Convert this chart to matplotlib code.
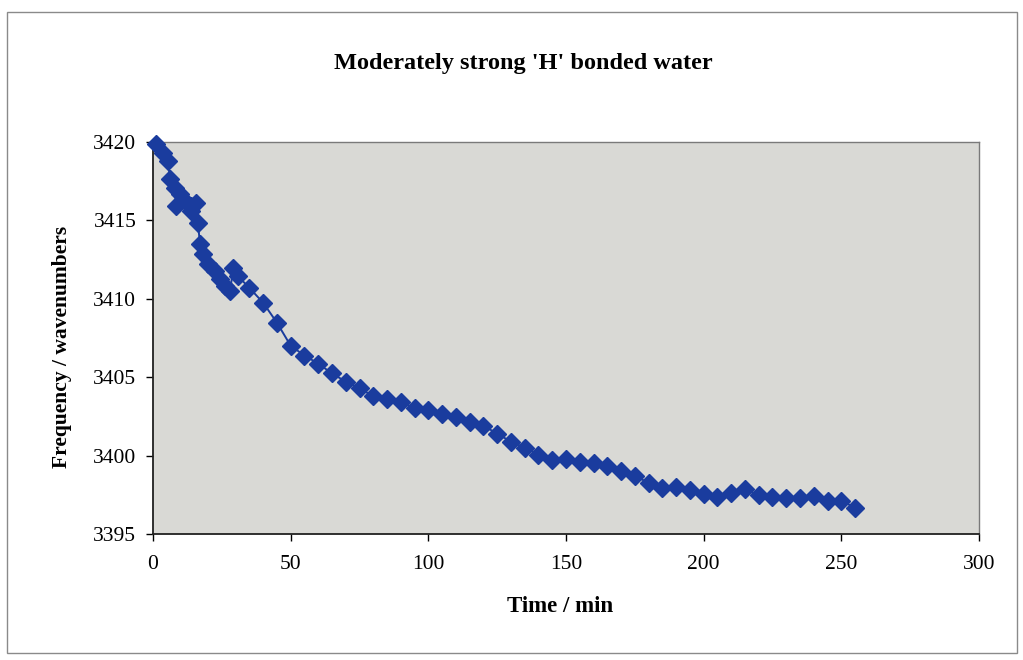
import matplotlib
matplotlib.use("Agg")
import matplotlib.pyplot as plt
from matplotlib.patches import Rectangle

# ---- data ----
time_min = [1.0, 3.6, 5.4, 6.2, 8.0, 8.4, 9.8, 11.6, 13.8, 13.9, 15.6, 16.3, 17.1, 18.2,
            20.0, 22.5, 24.3, 26.2, 28.0, 29.1, 30.9,
            35, 40, 45, 50, 55, 60, 65, 70, 75, 80, 85, 90, 95, 100, 105, 110, 115, 120,
            125, 130, 135, 140, 145, 150, 155, 160, 165, 170, 175, 180, 185, 190, 195,
            200, 205, 210, 215, 220, 225, 230, 235, 240, 245, 250, 255]
frequency = [3419.9, 3419.30, 3418.79, 3417.63, 3417.06, 3415.91, 3416.68, 3416.23, 3415.91,
             3415.59, 3416.10, 3414.82, 3413.48, 3412.84, 3412.20, 3411.75, 3411.24, 3410.79,
             3410.47, 3411.94, 3411.43,
             3410.70, 3409.75, 3408.48, 3407.01, 3406.38, 3405.87, 3405.24, 3404.72, 3404.29,
             3403.79, 3403.59, 3403.41, 3403.03, 3402.91, 3402.65, 3402.47, 3402.15, 3401.91,
             3401.40, 3400.89, 3400.51, 3400.07, 3399.75, 3399.76, 3399.57, 3399.52, 3399.34,
             3399.03, 3398.71, 3398.26, 3397.95, 3398.01, 3397.83, 3397.58, 3397.39, 3397.59,
             3397.85, 3397.47, 3397.35, 3397.29, 3397.30, 3397.42, 3397.11, 3397.12, 3396.68]
x_ticks = [0, 50, 100, 150, 200, 250, 300]
y_ticks = [3395, 3400, 3405, 3410, 3415, 3420]
title = "Moderately strong 'H' bonded water"
x_label = "Time / min"
y_label = "Frequency / wavenumbers"

# ---- figure ----
W, H = 1023, 660
fig = plt.figure(figsize=(W / 100, H / 100), dpi=100)
fig.patch.set_facecolor("white")

serif = ["Liberation Serif", "DejaVu Serif"]

# outer chart border
fig.add_artist(Rectangle((7 / W, 1 - 653 / H), (1017 - 7) / W, (653 - 12) / H,
                         transform=fig.transFigure, fill=False,
                         edgecolor="#8a8a8a", linewidth=1.0))

left, right, top, bottom = 153, 979, 142, 534
ax = fig.add_axes([left / W, 1 - bottom / H, (right - left) / W, (bottom - top) / H])
ax.set_facecolor("#d9d9d5")

blue = "#1a3c9e"
ax.plot(time_min, frequency, color=blue, linewidth=1.4, marker="D",
        markersize=9, markerfacecolor=blue, markeredgecolor=blue, clip_on=False, zorder=3)

ax.set_xlim(0, 300)
ax.set_ylim(3395, 3420)
ax.set_xticks(x_ticks)
ax.set_yticks(y_ticks)
ax.set_xticklabels([str(v) for v in x_ticks], fontfamily=serif, fontsize=15.5)
ax.set_yticklabels([str(v) for v in y_ticks], fontfamily=serif, fontsize=15.5)
ax.tick_params(axis="x", direction="out", length=5, width=1, pad=10, colors="black")
ax.tick_params(axis="y", direction="out", length=5, width=1, pad=7, colors="black")

for s in ("left", "bottom"):
    ax.spines[s].set_color("#202020")
    ax.spines[s].set_linewidth(1.3)
for s in ("top", "right"):
    ax.spines[s].set_color("#7a7a7a")
    ax.spines[s].set_linewidth(1.0)

fig.text(523 / W, 1 - 63 / H, title, ha="center", va="center",
         fontfamily=serif, fontweight="bold", fontsize=17.5)
fig.text(560 / W, 1 - 607 / H, x_label, ha="center", va="center",
         fontfamily=serif, fontweight="bold", fontsize=16.5)
fig.text(62 / W, 1 - 347 / H, y_label, ha="center", va="center", rotation=90,
         fontfamily=serif, fontweight="bold", fontsize=15.5)

fig.savefig("out.png", dpi=100)
